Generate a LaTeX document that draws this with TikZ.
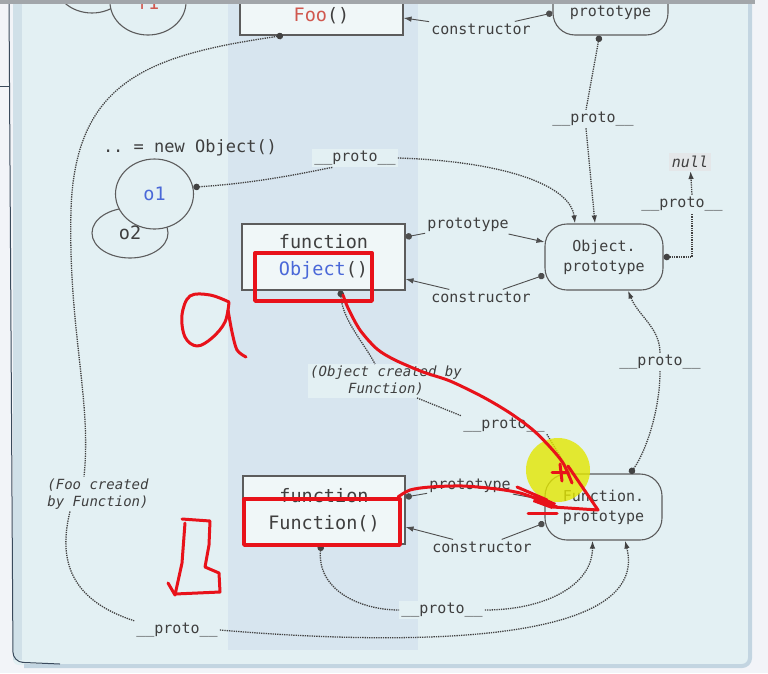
\documentclass[tikz,border=0pt]{standalone}
\usepackage{fontspec}
\setmonofont{DejaVu Sans Mono}
\usepackage{tikz}
\usetikzlibrary{arrows.meta, positioning, calc, shapes.geometric}
\definecolor{PageFill}{HTML}{F2F4F8}
\definecolor{PanelFill}{HTML}{E3F0F3}
\definecolor{ColumnFill}{HTML}{D7E5EF}
\definecolor{EdgeLine}{HTML}{C3D5E1}
\definecolor{FrameLine}{HTML}{3A4A5C}
\definecolor{TopBar}{HTML}{A2A6AA}
\definecolor{TextGray}{HTML}{3F3F3F}
\definecolor{LinkLine}{HTML}{4E4E4E}
\definecolor{BoxLine}{HTML}{5C5C5C}
\definecolor{FooRed}{HTML}{D0584F}
\definecolor{ObjBlue}{HTML}{4A68D8}
\definecolor{NullFill}{HTML}{E4E7E9}
\definecolor{PenRed}{HTML}{E8121A}
\definecolor{Marker}{HTML}{E2E600}

\begin{document}
\begin{tikzpicture}[
    x=1pt, y=1pt,
    fnbox/.style={draw=BoxLine, fill=PanelFill!55!white, line width=1.1pt,
        minimum width=163pt, minimum height=66pt, align=center,
        font=\fontsize{18.5}{27}\selectfont\ttfamily, text=TextGray},
    protobox/.style={draw=BoxLine, fill=PanelFill, line width=1.1pt,
        rounded corners=22pt, minimum width=118pt, minimum height=66pt,
        align=center, font=\fontsize{15}{20}\selectfont\ttfamily, text=TextGray},
    inst/.style={ellipse, draw=BoxLine, fill=PanelFill, line width=1.1pt,
        inner sep=0pt, font=\fontsize{18.5}{22}\selectfont\ttfamily, text=TextGray},
    lbl/.style={fill=PanelFill, inner sep=2pt,
        font=\fontsize{15}{18}\selectfont\ttfamily, text=TextGray},
    note/.style={fill=PanelFill, inner sep=2pt, align=center,
        font=\fontsize{14}{17}\selectfont\ttfamily\itshape, text=TextGray},
    link/.style={draw=LinkLine, line width=0.9pt},
    proto/.style={draw=LinkLine!85!black, densely dotted, line width=1.3pt},
    src/.style={{Circle[length=6.5pt]}-},
    tgt/.style={-{Latex[length=8pt, width=5.5pt]}},
    pen/.style={draw=PenRed, line width=3pt, line cap=round, line join=round}
]
\useasboundingbox (0,0) rectangle (768,-673);

% ===================================================================
% SCREEN BACKGROUND
% ===================================================================
\fill[PageFill] (0,0) rectangle (768,-673);
\fill[PanelFill, rounded corners=6pt] (13,5) rectangle (751,-665);
\fill[EdgeLine!60!PanelFill] (13,5) rectangle (22,-660);
\fill[ColumnFill] (228,0) rectangle (418,-650);
\draw[EdgeLine, line width=4pt, rounded corners=8pt]
    (750,5) -- (750,-666) -- (24,-666);
\draw[FrameLine, line width=1pt, rounded corners=10pt]
    (9,0) -- (13,-662) -- (60,-664);
\draw[FrameLine, line width=1pt] (0,-86) -- (9,-86);

% ===================================================================
% TOP ROW (Foo, cut off)
% ===================================================================
\node[inst, minimum width=76pt, minimum height=66pt] (f2) at (92,20) {};
\node[inst, minimum width=76pt, minimum height=66pt, text=FooRed] (f1) at (148,-2) {f1};
\node[fnbox] (foo) at (321.5,-2) {\phantom{function}\\\textcolor{FooRed}{Foo}()};
\node[protobox, minimum width=115pt] (fooproto) at (610.5,-2) {\phantom{Object.}\\prototype};

% ===================================================================
% OBJECT ROW
% ===================================================================
\node[font=\fontsize{17}{20}\selectfont\ttfamily, text=TextGray] (newobj) at (190,-148) {.. = new Object()};
\node[inst, minimum width=76pt, minimum height=50pt] (o2) at (130,-233) {o2};
\node[inst, minimum width=78pt, minimum height=70pt, text=ObjBlue] (o1) at (154.5,-194) {o1};
\node[fnbox] (objfn) at (323.5,-257) {function\\\textcolor{ObjBlue}{Object}()};
\node[protobox] (objproto) at (604,-257) {Object.\\prototype};
\node[fill=NullFill, inner sep=3pt, font=\fontsize{15}{18}\selectfont\ttfamily\itshape,
      text=TextGray] (nullval) at (690,-162) {null};

% ===================================================================
% FUNCTION ROW
% ===================================================================
\node[fnbox, minimum width=162pt, minimum height=68pt] (fnfn) at (324,-510) {function\\Function()};
\node[protobox, minimum width=117pt] (fnproto) at (603.5,-507) {Function.\\prototype};

% Labels
\node[lbl] (c1) at (481,-29) {constructor};
\node[lbl] (p1) at (593,-119) {\_\_proto\_\_};
\node[lbl] (p2) at (355,-158) {\_\_proto\_\_};
\node[lbl] (p3) at (468,-225) {prototype};
\node[lbl] (c2) at (481,-297) {constructor};
\node[lbl] (p4) at (682,-204) {\_\_proto\_\_};
\node[lbl] (p5) at (660,-362) {\_\_proto\_\_};
\node[note] (objby) at (386,-381) {(Object created by\\Function)};
\node[lbl] (p6) at (504,-425) {\_\_proto\_\_};
\node[lbl] (p7) at (470,-486) {prototype};
\node[lbl] (c3) at (482,-547) {constructor};
\node[note] (fooby) at (98,-494) {(Foo created\\by Function)};
\node[lbl] (p8) at (442,-610) {\_\_proto\_\_};
\node[lbl] (p9) at (177,-630) {\_\_proto\_\_};

% ===================================================================
% prototype / constructor links
% ===================================================================
\draw[link, src] ([yshift=-11pt]fooproto.west) -- (c1);
\draw[link, tgt] (c1) -- ([yshift=-16pt]foo.east);

\draw[link, src] ([yshift=20pt]objfn.east) -- (p3);
\draw[link, tgt] (p3) -- ([yshift=15pt]objproto.west);
\draw[link, src] ([yshift=-18pt]objproto.west) -- (c2);
\draw[link, tgt] (c2) -- ([yshift=-22pt]objfn.east);

\draw[link, src] ([yshift=13pt]fnfn.east) -- (p7);
\draw[link, tgt] (p7) -- ([yshift=7pt]fnproto.west);
\draw[link, src] ([yshift=-16pt]fnproto.west) -- (c3);
\draw[link, tgt] (c3) -- ([yshift=-17pt]fnfn.east);

% ===================================================================
% __proto__ links
% ===================================================================
\draw[proto, src] ([xshift=-11pt]fooproto.south) -- ([xshift=-7pt]p1.north);
\draw[proto, tgt] ([xshift=-7pt]p1.south) -- ([xshift=-9pt]objproto.north);

\draw[proto, src] (o1.10) .. controls +(60,4) and +(-40,-8) .. ([xshift=-22pt]p2.south);
\draw[proto, tgt] (p2.east) .. controls +(100,-3) and +(-5,40) .. ([xshift=-29pt]objproto.north);

\draw[proto, src] (objproto.east) -| ([xshift=10pt]p4.south);
\draw[proto, tgt] ([xshift=10pt]p4.north) -- (nullval);

\draw[proto, src] ([xshift=26.5pt]fnproto.north) .. controls +(15,20) and +(0,-40) .. (p5.south);
\draw[proto, tgt] (p5.north) .. controls +(0,25) and +(10,-25) .. ([xshift=24pt]objproto.south);

\draw[proto, src] ([xshift=17pt]objfn.south) .. controls +(2,-30) and +(-10,20) .. ([xshift=-11pt]objby.north);
\draw[proto] ([xshift=31pt]objby.south) -- (p6.north west);
\draw[proto, tgt] (p6.south east) -- ([xshift=-33pt]fnproto.north);

\draw[proto, src] ([xshift=-3pt]fnfn.south) .. controls +(-4,-45) and +(-40,0) .. (p8.west);
\draw[proto, tgt] (p8.east) .. controls +(60,0) and +(0,-45) .. ([xshift=-11pt]fnproto.south);

\draw[proto, src] ([xshift=-38.5pt]foo.south) .. controls (150,-55) and (75,-80) .. (71,-210)
    .. controls (68,-330) and (92,-400) .. ([xshift=-14pt]fooby.north);
\draw[proto] ([xshift=-28pt]fooby.south) .. controls (58,-560) and (70,-600) .. (p9.north west);
\draw[proto, tgt] (p9.east) .. controls (430,-648) and (650,-640) .. ([xshift=21.5pt]fnproto.south);

% ===================================================================
% SCREEN TOP BAR
% ===================================================================
\fill[TopBar] (0,0) rectangle (755,-4);

% ===================================================================
% HAND ANNOTATIONS
% ===================================================================
\fill[Marker, fill opacity=0.8] (558,-470) circle (32);

\draw[pen, line width=3.4pt] (255,-253) rectangle (372,-301);
\draw[pen, line width=3.4pt] (244,-499) rectangle (400,-545);

% handwritten a
\draw[pen] plot[smooth, tension=0.6] coordinates {(229,-302) (210,-295) (190,-296)
    (182,-315) (185,-337) (197,-346) (212,-338) (225,-322) (229,-302)};
\draw[pen] plot[smooth] coordinates {(228,-310) (232,-332) (237,-350) (246,-357)};

% handwritten b
\draw[pen] (182,-519) -- (210,-521) -- (209,-545) -- (205,-567) -- (219,-573)
    -- (220,-592) -- (175,-594);
\draw[pen] (185,-523) -- (182,-563) -- (175,-595) -- (168,-583);

% stroke from Object()
\draw[pen] plot[smooth] coordinates {(343,-295) (348,-308) (360,-330) (377,-349)
    (395,-360) (423,-372) (450,-381) (483,-397) (510,-413) (533,-430) (550,-447)
    (563,-463) (572,-483)};
\draw[pen] (568,-466) -- (598,-510) -- (553,-507);
\draw[pen] (552,-472) -- (568,-472);
\draw[pen] (560,-464) -- (562,-481);

% stroke from Function()
\draw[pen] plot[smooth] coordinates {(398,-497) (410,-490) (430,-487) (463,-486)
    (497,-489) (520,-493) (540,-500) (557,-507)};
\draw[pen] (517,-487) -- (547,-500);
\fill[PenRed] (535,-494) -- (556,-503) -- (552,-509) -- (533,-502) -- cycle;
\draw[pen] (528,-513) -- (557,-513);

\end{tikzpicture}
\end{document}
